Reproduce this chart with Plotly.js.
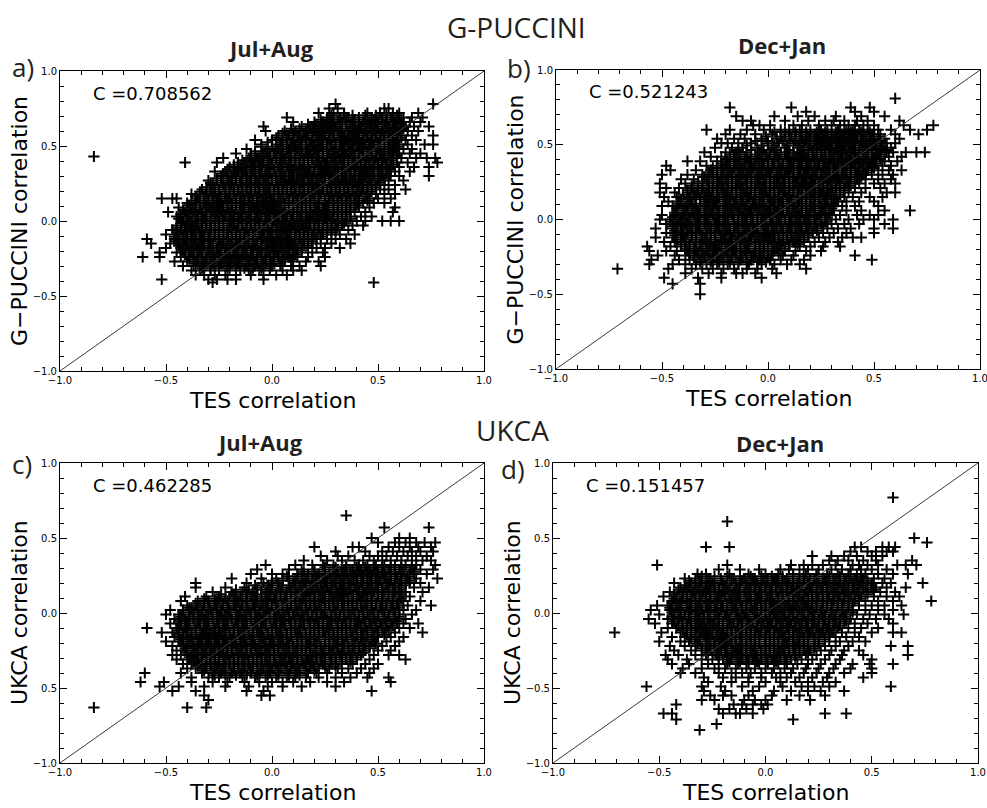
<!DOCTYPE html>
<html>
<head>
<meta charset="utf-8">
<script src="https://cdn.plot.ly/plotly-3.0.1.min.js"></script>
<style>html,body{margin:0;padding:0;background:#fff;}#chart{width:987px;height:808px;}</style>
</head>
<body>
<div id="chart"></div>
<script>
// Each row: [y, x1, x2, ...]  (row by row)
const rowsA = [
[.78,.3,.76],
[.75,.27,.31,.53,.55],
[.72,.22,.29,.34,.45,.51,.57,.6,.69],
[.69,.07,.26,.32,.36,.41,.47,.52,.56,.62,.66,.71],
[.66,.1,.2,.24,.29,.33,.38,.43,.46,.5,.54,.58,.61,.65,.7],
[.63,-.04,.14,.19,.23,.27,.3,.35,.39,.42,.47,.5,.55,.59,.63,.67,.74],
[.6,-.03,.06,.11,.16,.2,.24,.28,.31,.36,.4,.44,.48,.52,.56,.6,.64,.69],
[.57,.03,.08,.13,.17,.22,.25,.29,.34,.38,.41,.45,.49,.53,.57,.61,.66,.76],
[.54,-.08,0,.05,.1,.14,.19,.23,.27,.32,.35,.39,.43,.47,.51,.55,.59,.63,.68],
[.51,-.05,.02,.07,.11,.16,.2,.24,.28,.33,.37,.41,.44,.48,.53,.57,.6,.64,.72,.76],
[.48,-.12,-.02,.03,.08,.12,.17,.21,.26,.3,.34,.38,.42,.46,.5,.55,.58,.62,.66],
[.45,-.17,-.08,-.04,.01,.05,.09,.14,.18,.22,.27,.31,.35,.39,.43,.47,.52,.56,.6,.65,.7],
[.43,-.84],
[.42,-.23,-.11,-.07,-.02,.02,.06,.11,.15,.19,.24,.28,.32,.36,.41,.45,.49,.53,.57,.61,.68,.73,.77],
[.39,-.41,-.26,-.16,-.12,-.08,-.04,0,.04,.08,.13,.17,.21,.25,.3,.34,.38,.42,.46,.5,.54,.59,.64,.78],
[.36,-.2,-.15,-.1,-.06,-.02,.03,.07,.11,.15,.2,.23,.27,.31,.36,.4,.44,.48,.52,.56,.6,.67,.74],
[.33,-.27,-.22,-.17,-.13,-.09,-.05,-.01,.04,.09,.13,.17,.22,.26,.29,.33,.37,.42,.46,.5,.54,.58,.65],
[.3,-.24,-.19,-.14,-.1,-.06,-.02,.02,.06,.1,.15,.19,.23,.27,.31,.35,.39,.44,.48,.52,.56,.6,.74],
[.27,-.3,-.26,-.21,-.17,-.12,-.08,-.04,0,.05,.09,.13,.17,.21,.25,.3,.34,.38,.42,.46,.51,.55,.62],
[.24,-.28,-.23,-.19,-.14,-.1,-.06,-.02,.03,.07,.11,.15,.19,.24,.28,.32,.36,.4,.45,.49,.53,.58],
[.21,-.33,-.29,-.25,-.2,-.16,-.12,-.08,-.04,.01,.05,.09,.13,.17,.21,.26,.3,.34,.38,.43,.47,.51,.55,.63],
[.18,-.38,-.31,-.27,-.22,-.18,-.14,-.1,-.06,-.02,.03,.07,.11,.15,.19,.23,.28,.32,.36,.4,.45,.49,.53,.58],
[.15,-.52,-.47,-.45,-.35,-.3,-.26,-.22,-.17,-.13,-.09,-.05,-.01,.03,.08,.12,.16,.2,.25,.29,.33,.37,.41,.46,.5,.56],
[.12,-.4,-.36,-.32,-.28,-.24,-.19,-.15,-.11,-.07,-.03,.01,.06,.1,.14,.18,.22,.27,.31,.35,.39,.43,.48,.53],
[.09,-.44,-.38,-.34,-.3,-.26,-.21,-.17,-.13,-.09,-.05,-.01,.03,.08,.12,.16,.2,.24,.29,.33,.37,.41,.46,.58],
[.06,-.49,-.41,-.37,-.33,-.28,-.24,-.2,-.15,-.11,-.07,-.03,.01,.05,.1,.14,.18,.22,.26,.31,.35,.39,.44,.57],
[.03,-.45,-.4,-.35,-.31,-.27,-.22,-.18,-.14,-.1,-.05,-.01,.03,.07,.12,.16,.2,.24,.28,.33,.37,.42,.47],
[0,-.42,-.38,-.33,-.29,-.25,-.2,-.16,-.12,-.08,-.03,.01,.05,.09,.14,.18,.22,.26,.31,.35,.4,.44,.52,.56,.6],
[-.03,-.45,-.4,-.36,-.31,-.27,-.23,-.19,-.14,-.1,-.06,-.02,.03,.07,.11,.15,.2,.24,.28,.33,.38,.43],
[-.06,-.47,-.43,-.38,-.34,-.29,-.25,-.21,-.17,-.12,-.08,-.04,0,.05,.09,.13,.17,.22,.26,.3,.36],
[-.09,-.5,-.44,-.4,-.36,-.32,-.27,-.23,-.19,-.15,-.11,-.06,-.02,.02,.06,.11,.15,.19,.24,.28,.32,.39],
[-.12,-.59,-.46,-.42,-.38,-.34,-.3,-.25,-.21,-.17,-.13,-.09,-.04,0,.04,.08,.13,.17,.21,.26,.3,.35],
[-.15,-.57,-.48,-.44,-.4,-.36,-.32,-.28,-.23,-.19,-.15,-.11,-.07,-.02,.02,.06,.1,.15,.19,.23,.28,.37],
[-.18,-.5,-.43,-.39,-.35,-.3,-.26,-.22,-.18,-.13,-.09,-.05,0,.04,.08,.12,.17,.21,.25,.32],
[-.21,-.53,-.45,-.41,-.37,-.33,-.28,-.24,-.2,-.16,-.12,-.07,-.03,.01,.05,.1,.14,.19,.24],
[-.24,-.61,-.53,-.43,-.39,-.35,-.31,-.27,-.22,-.18,-.14,-.1,-.05,-.01,.03,.08,.12,.17,.25],
[-.27,-.46,-.4,-.36,-.32,-.28,-.24,-.2,-.16,-.11,-.07,-.03,.01,.06,.1,.16,.22],
[-.3,-.42,-.37,-.33,-.29,-.25,-.21,-.17,-.12,-.08,-.04,0,.04,.09,.13,.23],
[-.33,-.38,-.34,-.29,-.25,-.2,-.15,-.11,-.06,-.01,.05,.1,.14],
[-.36,-.36,-.32,-.27,-.22,-.17,-.1,-.04,.02,.07],
[-.39,-.52,-.3,-.26,-.21,-.17,-.04],
[-.41,-.28,.48]
];
// in-between rows of the dense core
const fillA = [
[.705,.28,.34,.38,.44,.49,.54,.59],
[.675,.23,.27,.31,.35,.39,.44,.48,.52,.57,.6],
[.645,.17,.21,.25,.28,.32,.37,.41,.45,.49,.53,.57,.61],
[.615,.09,.13,.18,.22,.26,.29,.33,.38,.42,.46,.5,.54,.58,.62],
[.585,.05,.1,.15,.19,.23,.27,.32,.36,.39,.43,.47,.51,.55,.59],
[.555,.02,.07,.12,.16,.21,.24,.29,.33,.37,.4,.45,.49,.53,.57,.61],
[.525,-.02,.04,.09,.13,.18,.22,.26,.3,.34,.38,.42,.46,.5,.55,.58],
[.495,-.05,0,.05,.1,.14,.19,.23,.28,.32,.36,.4,.43,.47,.51,.56,.59],
[.465,-.08,-.03,.02,.07,.11,.16,.2,.24,.29,.33,.37,.41,.45,.49,.53,.57],
[.435,-.1,-.05,-.01,.04,.08,.13,.17,.21,.26,.3,.34,.38,.43,.47,.51,.55,.59],
[.405,-.14,-.1,-.06,-.01,.04,.09,.13,.17,.22,.26,.3,.34,.39,.44,.48,.52,.56],
[.375,-.18,-.13,-.09,-.05,0,.05,.09,.13,.17,.22,.26,.29,.33,.38,.42,.46,.5,.54,.57],
[.345,-.21,-.16,-.12,-.08,-.03,.01,.05,.1,.14,.18,.22,.25,.3,.34,.39,.43,.47,.51,.55],
[.315,-.23,-.18,-.14,-.1,-.05,-.01,.04,.08,.12,.16,.2,.24,.28,.33,.37,.41,.45,.5,.54],
[.285,-.26,-.21,-.17,-.12,-.08,-.04,0,.04,.08,.12,.17,.21,.25,.29,.33,.37,.41,.46,.5,.53],
[.255,-.29,-.24,-.2,-.15,-.11,-.07,-.03,.02,.06,.1,.14,.18,.22,.27,.31,.35,.39,.43,.47,.51],
[.225,-.31,-.27,-.22,-.18,-.14,-.1,-.06,-.01,.03,.07,.11,.15,.2,.24,.28,.32,.36,.41,.45,.49],
[.195,-.34,-.29,-.25,-.2,-.16,-.12,-.08,-.03,.01,.05,.09,.13,.17,.22,.26,.3,.34,.38,.42,.47],
[.165,-.36,-.32,-.28,-.24,-.2,-.15,-.11,-.07,-.03,.01,.05,.1,.14,.18,.22,.27,.31,.35,.39,.44],
[.135,-.38,-.34,-.3,-.25,-.21,-.17,-.13,-.09,-.04,0,.04,.08,.12,.16,.2,.25,.29,.33,.37,.41,.45],
[.105,-.39,-.36,-.31,-.27,-.23,-.19,-.14,-.1,-.06,-.02,.02,.06,.1,.14,.18,.22,.26,.31,.35,.4],
[.075,-.42,-.38,-.34,-.29,-.25,-.21,-.17,-.13,-.08,-.04,0,.04,.08,.12,.16,.21,.25,.29,.33,.37],
[.045,-.43,-.39,-.35,-.31,-.26,-.22,-.18,-.14,-.1,-.06,-.02,.02,.06,.1,.14,.19,.23,.27,.31,.35],
[.015,-.44,-.4,-.36,-.32,-.27,-.23,-.19,-.15,-.11,-.07,-.03,.01,.05,.09,.13,.17,.21,.25,.29,.33,.37],
[-.015,-.43,-.39,-.35,-.31,-.27,-.23,-.18,-.14,-.1,-.06,-.02,.02,.06,.1,.14,.18,.22,.26,.3,.34],
[-.045,-.45,-.41,-.37,-.33,-.29,-.25,-.2,-.16,-.12,-.08,-.04,0,.04,.08,.12,.16,.2,.24,.28,.31],
[-.075,-.45,-.41,-.37,-.33,-.29,-.25,-.21,-.17,-.13,-.09,-.05,-.01,.03,.07,.11,.15,.2,.24,.28],
[-.105,-.46,-.42,-.38,-.34,-.3,-.25,-.21,-.17,-.13,-.09,-.05,-.01,.03,.07,.11,.15,.19,.23],
[-.135,-.45,-.41,-.37,-.33,-.29,-.25,-.21,-.17,-.13,-.09,-.05,-.01,.03,.07,.11,.15,.19],
[-.165,-.44,-.4,-.36,-.32,-.28,-.24,-.2,-.16,-.12,-.08,-.03,.01,.05,.09,.14,.17],
[-.195,-.42,-.38,-.34,-.3,-.26,-.22,-.18,-.14,-.1,-.06,-.02,.02,.06,.1,.14],
[-.225,-.41,-.37,-.33,-.29,-.25,-.21,-.17,-.13,-.09,-.05,-.01,.03,.07,.11],
[-.255,-.39,-.35,-.31,-.27,-.23,-.19,-.15,-.11,-.07,-.03,.01,.05,.09],
[-.285,-.36,-.32,-.28,-.24,-.2,-.16,-.12,-.08,-.04,0,.04],
[-.315,-.33,-.29,-.25,-.21,-.17,-.13,-.09,-.05,-.01]
];

const rowsB = [
[.81,.6],
[.75,-.18,.11,.39,.48],
[.72,.18,.41,.5],
[.69,-.15,.03,.14,.22,.32,.44,.55],
[.66,-.12,-.08,.08,.19,.27,.31,.36,.42,.47,.62],
[.63,-.07,-.04,.01,.12,.16,.24,.3,.34,.38,.41,.45,.5,.64,.78],
[.6,-.29,-.18,-.1,-.02,.06,.1,.15,.2,.25,.28,.33,.37,.4,.43,.47,.52,.58,.67,.75],
[.57,-.2,-.13,-.06,.02,.08,.13,.18,.22,.26,.3,.34,.38,.41,.45,.49,.53,.6,.71],
[.54,-.24,-.16,-.11,-.03,.04,.1,.16,.2,.24,.27,.31,.35,.39,.42,.46,.5,.55,.62],
[.51,-.22,-.19,-.14,-.08,0,.05,.12,.17,.22,.26,.29,.33,.36,.4,.44,.47,.51,.56,.6],
[.48,-.25,-.17,-.12,-.05,.02,.08,.14,.19,.23,.27,.3,.34,.38,.41,.45,.49,.53,.58],
[.45,-.3,-.2,-.15,-.1,-.04,.01,.06,.1,.15,.19,.23,.27,.31,.35,.39,.43,.47,.52,.56,.59,.65,.7,.74],
[.42,-.27,-.22,-.16,-.11,-.06,-.01,.04,.09,.13,.17,.21,.25,.29,.33,.37,.41,.45,.49,.53,.57,.63],
[.39,-.38,-.32,-.24,-.19,-.14,-.09,-.04,0,.05,.1,.15,.19,.23,.27,.31,.35,.39,.43,.47,.51,.55,.61],
[.36,-.48,-.29,-.24,-.2,-.15,-.11,-.06,-.02,.03,.07,.12,.16,.2,.24,.29,.33,.37,.41,.45,.49,.54,.58],
[.33,-.46,-.34,-.27,-.22,-.18,-.13,-.09,-.04,0,.05,.09,.14,.18,.22,.26,.31,.35,.39,.43,.47,.52,.57,.63],
[.3,-.5,-.38,-.31,-.26,-.21,-.17,-.12,-.08,-.03,.01,.06,.1,.15,.19,.23,.28,.32,.36,.41,.45,.49,.54,.59],
[.27,-.41,-.35,-.29,-.24,-.2,-.15,-.11,-.06,-.02,.03,.07,.12,.16,.2,.25,.29,.33,.37,.42,.46,.52,.58],
[.24,-.51,-.39,-.33,-.28,-.23,-.19,-.14,-.1,-.05,-.01,.04,.08,.13,.17,.21,.26,.3,.34,.38,.43,.5,.55,.6],
[.21,-.48,-.42,-.36,-.31,-.26,-.21,-.17,-.12,-.08,-.03,.01,.06,.1,.15,.19,.24,.28,.32,.36,.41,.46,.53],
[.18,-.51,-.44,-.38,-.34,-.29,-.24,-.2,-.15,-.11,-.06,-.02,.03,.07,.12,.16,.21,.25,.29,.34,.38,.44,.56,.6],
[.15,-.49,-.43,-.37,-.32,-.27,-.23,-.18,-.13,-.09,-.04,0,.05,.09,.14,.18,.22,.27,.31,.36,.4,.48,.54],
[.12,-.47,-.42,-.36,-.3,-.26,-.21,-.16,-.12,-.07,-.03,.02,.06,.11,.15,.2,.24,.28,.33,.37,.43,.5],
[.09,-.5,-.45,-.39,-.34,-.29,-.24,-.2,-.15,-.11,-.06,-.02,.03,.07,.12,.16,.21,.25,.3,.35,.41,.52],
[.06,-.43,-.38,-.33,-.28,-.23,-.18,-.14,-.09,-.05,0,.04,.09,.13,.18,.22,.27,.31,.37,.44,.55,.67],
[.03,-.5,-.44,-.4,-.35,-.3,-.26,-.21,-.17,-.12,-.08,-.03,.01,.06,.1,.15,.19,.24,.29,.34,.42,.48,.52],
[0,-.51,-.46,-.41,-.37,-.32,-.28,-.23,-.19,-.14,-.1,-.05,-.01,.04,.08,.13,.17,.22,.27,.32,.38,.45,.5,.59],
[-.03,-.48,-.43,-.39,-.34,-.3,-.25,-.21,-.16,-.12,-.07,-.03,.02,.06,.11,.15,.2,.25,.3,.36,.43,.55],
[-.06,-.53,-.45,-.41,-.36,-.32,-.27,-.23,-.18,-.14,-.09,-.05,0,.04,.09,.13,.18,.23,.28,.33,.39,.5,.59],
[-.09,-.48,-.43,-.38,-.34,-.29,-.25,-.2,-.16,-.11,-.07,-.02,.02,.07,.11,.16,.21,.26,.31,.37,.5],
[-.12,-.53,-.45,-.41,-.36,-.31,-.27,-.22,-.18,-.13,-.09,-.04,0,.05,.09,.14,.19,.24,.29,.35,.4,.44],
[-.15,-.49,-.44,-.39,-.34,-.29,-.25,-.2,-.15,-.11,-.06,-.02,.03,.07,.12,.17,.22,.27,.33],
[-.18,-.57,-.46,-.41,-.37,-.32,-.27,-.23,-.18,-.13,-.09,-.04,0,.05,.1,.15,.2,.26,.34],
[-.21,-.56,-.48,-.43,-.38,-.34,-.29,-.25,-.2,-.16,-.11,-.06,-.02,.03,.08,.13,.18,.25],
[-.24,-.52,-.44,-.39,-.35,-.3,-.26,-.21,-.17,-.12,-.07,-.03,.02,.07,.12,.2,.41],
[-.27,-.55,-.42,-.37,-.32,-.27,-.23,-.18,-.13,-.08,-.04,.01,.06,.11,.17,.49],
[-.3,-.56,-.45,-.39,-.34,-.29,-.24,-.19,-.14,-.09,-.03,.03,.09,.15],
[-.33,-.71,-.47,-.36,-.31,-.26,-.21,-.16,-.1,-.05,.02,.18],
[-.36,-.39,-.28,-.22,-.15,-.12,-.06,.04],
[-.39,-.49,-.33,-.22,-.03],
[-.43,-.45,-.32],
[-.5,-.32]
];
const fillB = [
[.585,.03,.08,.13,.18,.23,.27,.32,.36,.39,.44,.48],
[.555,-.01,.06,.11,.15,.19,.23,.28,.32,.36,.4,.44,.48,.52],
[.525,-.06,0,.07,.13,.18,.22,.25,.29,.33,.37,.41,.44,.48,.53],
[.495,-.1,-.03,.03,.09,.15,.2,.24,.28,.32,.35,.39,.43,.46,.5,.54],
[.465,-.14,-.08,-.02,.04,.1,.16,.21,.25,.29,.32,.36,.4,.43,.47,.51,.55],
[.435,-.18,-.13,-.08,-.03,.03,.08,.12,.16,.21,.25,.29,.33,.37,.41,.45,.49,.53],
[.405,-.2,-.15,-.1,-.05,0,.05,.1,.14,.18,.22,.26,.3,.34,.38,.42,.46,.5,.53],
[.375,-.22,-.18,-.13,-.08,-.03,.02,.07,.11,.16,.2,.24,.28,.32,.36,.4,.44,.48,.51],
[.345,-.26,-.21,-.16,-.12,-.07,-.03,.02,.06,.11,.15,.19,.23,.27,.31,.35,.39,.43,.47,.5],
[.315,-.28,-.24,-.19,-.14,-.1,-.05,-.01,.04,.08,.12,.17,.21,.25,.29,.33,.37,.42,.46],
[.285,-.3,-.26,-.22,-.17,-.13,-.08,-.04,.01,.05,.1,.14,.18,.22,.27,.31,.35,.39,.44],
[.255,-.33,-.28,-.24,-.19,-.15,-.1,-.06,-.02,.03,.07,.12,.16,.2,.24,.28,.32,.37,.41],
[.225,-.36,-.31,-.26,-.22,-.17,-.13,-.08,-.04,.01,.05,.1,.14,.18,.22,.26,.3,.34,.39],
[.195,-.38,-.33,-.28,-.24,-.19,-.15,-.1,-.06,-.01,.03,.08,.12,.16,.2,.24,.28,.32,.36],
[.165,-.4,-.35,-.3,-.26,-.21,-.17,-.12,-.08,-.03,.01,.05,.1,.14,.18,.22,.26,.3,.34],
[.135,-.41,-.37,-.32,-.28,-.24,-.19,-.15,-.1,-.06,-.02,.03,.07,.11,.16,.2,.24,.28,.32],
[.105,-.42,-.38,-.34,-.29,-.25,-.2,-.16,-.12,-.07,-.03,.01,.05,.1,.14,.18,.22,.27,.31],
[.075,-.43,-.39,-.35,-.3,-.26,-.21,-.17,-.13,-.08,-.04,.01,.05,.09,.14,.18,.22,.26,.3],
[.045,-.44,-.4,-.36,-.32,-.27,-.23,-.19,-.14,-.1,-.05,-.01,.03,.07,.12,.16,.2,.25,.29],
[.015,-.45,-.41,-.37,-.33,-.29,-.24,-.2,-.16,-.11,-.07,-.02,.02,.06,.11,.15,.19,.23,.28],
[-.015,-.46,-.42,-.38,-.34,-.29,-.25,-.21,-.16,-.12,-.08,-.03,.01,.05,.1,.14,.18,.22,.27],
[-.045,-.45,-.41,-.37,-.33,-.28,-.24,-.2,-.15,-.11,-.07,-.02,.02,.06,.1,.14,.18,.22,.26],
[-.075,-.44,-.4,-.36,-.32,-.27,-.23,-.19,-.14,-.1,-.06,-.01,.03,.07,.11,.15,.19,.23],
[-.105,-.44,-.4,-.36,-.31,-.27,-.22,-.18,-.14,-.09,-.05,-.01,.03,.07,.11,.15,.19],
[-.135,-.43,-.39,-.34,-.3,-.25,-.21,-.17,-.12,-.08,-.03,.01,.05,.09,.13,.17],
[-.165,-.41,-.37,-.32,-.28,-.24,-.19,-.15,-.1,-.06,-.02,.02,.06,.1,.14],
[-.195,-.39,-.35,-.31,-.26,-.22,-.17,-.13,-.09,-.04,0,.04,.08],
[-.225,-.37,-.33,-.28,-.24,-.19,-.15,-.1,-.06,-.02,.02,.05],
[-.255,-.35,-.31,-.26,-.22,-.17,-.13,-.08,-.04,0],
[-.285,-.32,-.27,-.23,-.18,-.14,-.1,-.05,-.01]
];

const rowsC = [
[.65,.35],
[.57,.53,.74],
[.5,.47,.6,.65],
[.47,.5,.58,.63,.68,.72,.77],
[.44,.2,.38,.41,.55,.6,.65,.69,.75],
[.41,.3,.44,.52,.57,.62,.66,.7,.76],
[.38,.23,.31,.36,.46,.5,.54,.59,.64,.68,.73],
[.35,.15,.26,.33,.39,.43,.48,.52,.56,.61,.66,.71,.75],
[.32,-.03,.11,.19,.24,.29,.35,.41,.45,.49,.53,.58,.63,.68,.77],
[.29,-.07,.08,.14,.2,.25,.3,.34,.38,.42,.46,.5,.55,.6,.65,.7,.76],
[.26,-.1,0,.05,.12,.17,.22,.27,.31,.35,.39,.43,.47,.52,.56,.61,.67,.73],
[.23,-.19,-.05,.02,.08,.14,.19,.24,.28,.32,.36,.4,.45,.49,.53,.58,.63,.68,.78],
[.2,-.36,-.12,-.04,.03,.1,.15,.2,.25,.29,.33,.37,.42,.46,.5,.55,.6,.65,.7],
[.17,-.36,-.22,-.13,-.07,-.01,.05,.11,.16,.21,.26,.3,.34,.39,.43,.47,.52,.57,.61,.67,.74],
[.14,-.28,-.19,-.14,-.09,-.03,.02,.07,.12,.17,.22,.27,.31,.35,.4,.44,.48,.53,.58,.63,.71],
[.11,-.41,-.31,-.25,-.2,-.15,-.1,-.05,-.01,.04,.09,.14,.18,.23,.28,.32,.36,.41,.45,.5,.55,.6,.65],
[.08,-.43,-.35,-.3,-.26,-.21,-.16,-.12,-.07,-.02,.02,.07,.11,.16,.2,.25,.29,.34,.38,.42,.47,.52,.57,.62,.7],
[.05,-.4,-.36,-.32,-.27,-.23,-.18,-.14,-.09,-.05,0,.05,.09,.14,.18,.23,.27,.31,.36,.4,.45,.49,.54,.59,.64,.75],
[.02,-.48,-.42,-.38,-.33,-.29,-.24,-.2,-.15,-.11,-.06,-.02,.03,.07,.12,.16,.21,.25,.3,.34,.38,.43,.47,.52,.57,.62,.68],
[-.01,-.5,-.44,-.39,-.35,-.31,-.26,-.22,-.17,-.13,-.08,-.04,.01,.05,.1,.14,.19,.23,.28,.32,.36,.41,.45,.5,.55,.6,.66],
[-.04,-.46,-.41,-.37,-.32,-.28,-.23,-.19,-.14,-.1,-.05,-.01,.04,.08,.13,.17,.21,.26,.3,.34,.39,.43,.48,.53,.58,.63],
[-.07,-.48,-.43,-.39,-.34,-.3,-.25,-.21,-.16,-.12,-.07,-.03,.02,.06,.11,.15,.2,.24,.28,.33,.37,.41,.46,.51,.56,.62,.69],
[-.1,-.59,-.45,-.41,-.36,-.32,-.27,-.23,-.18,-.14,-.09,-.05,0,.04,.09,.13,.18,.22,.26,.31,.35,.39,.44,.49,.54,.6,.65],
[-.13,-.52,-.47,-.42,-.38,-.33,-.29,-.25,-.2,-.16,-.11,-.07,-.02,.02,.07,.11,.16,.2,.24,.29,.33,.37,.42,.47,.52,.58,.71],
[-.16,-.46,-.42,-.38,-.34,-.3,-.26,-.22,-.18,-.13,-.09,-.04,0,.05,.09,.14,.18,.22,.27,.31,.35,.4,.45,.5,.56,.62],
[-.19,-.5,-.44,-.4,-.35,-.31,-.27,-.23,-.19,-.15,-.1,-.06,-.01,.03,.07,.12,.16,.2,.25,.29,.33,.38,.43,.48,.54,.6],
[-.22,-.47,-.42,-.37,-.33,-.29,-.25,-.21,-.17,-.12,-.08,-.03,.01,.05,.1,.14,.18,.23,.27,.31,.36,.41,.46,.52,.58],
[-.25,-.45,-.4,-.35,-.31,-.27,-.23,-.19,-.14,-.1,-.05,-.01,.03,.08,.12,.16,.21,.25,.29,.34,.39,.44,.5,.56],
[-.28,-.47,-.43,-.38,-.33,-.29,-.25,-.21,-.16,-.12,-.07,-.03,.01,.06,.1,.14,.19,.23,.27,.32,.37,.42,.48,.55,.6],
[-.31,-.45,-.4,-.36,-.31,-.27,-.23,-.18,-.14,-.09,-.05,-.01,.04,.08,.12,.17,.21,.25,.3,.35,.4,.46,.63],
[-.34,-.42,-.38,-.34,-.29,-.25,-.2,-.16,-.11,-.07,-.02,.02,.06,.1,.15,.19,.24,.28,.33,.38,.44,.5],
[-.37,-.4,-.36,-.31,-.27,-.22,-.18,-.13,-.09,-.04,0,.04,.09,.13,.18,.22,.27,.31,.36,.42,.48],
[-.4,-.6,-.43,-.33,-.28,-.24,-.19,-.15,-.1,-.06,-.01,.03,.08,.12,.17,.21,.26,.33,.4,.46],
[-.43,-.38,-.3,-.25,-.2,-.14,-.08,-.03,.02,.07,.11,.16,.22,.3,.37,.45,.55],
[-.46,-.62,-.51,-.38,-.28,-.21,-.13,-.06,0,.05,.1,.18,.26,.34,.56],
[-.49,-.53,-.44,-.32,-.22,-.11,-.02,.05,.14,.3],
[-.52,-.47,-.36,-.12,-.04,.47],
[-.55,-.32,-.05,-.01],
[-.58,-.3],
[-.63,-.84,-.4,-.31]
];
const fillC = [
[.305,.25,.3,.35,.4,.44,.48,.52,.56,.61,.66],
[.275,.15,.2,.25,.29,.33,.37,.41,.45,.49,.53,.58,.62,.67],
[.245,.07,.12,.17,.21,.25,.3,.34,.38,.42,.46,.5,.54,.59,.64],
[.215,0,.05,.11,.16,.21,.26,.3,.34,.38,.43,.47,.51,.56,.61,.65],
[.185,-.08,-.02,.03,.08,.13,.18,.23,.28,.32,.36,.4,.45,.49,.54,.58,.63],
[.155,-.17,-.11,-.05,0,.04,.09,.14,.19,.24,.28,.33,.37,.41,.46,.5,.55,.6],
[.125,-.24,-.18,-.12,-.07,-.02,.02,.07,.11,.16,.2,.25,.3,.34,.38,.43,.47,.52,.57,.61],
[.095,-.32,-.27,-.22,-.17,-.12,-.08,-.03,.01,.06,.11,.15,.2,.24,.29,.33,.38,.42,.47,.52,.57,.61],
[.065,-.36,-.32,-.27,-.23,-.18,-.14,-.09,-.04,0,.05,.09,.13,.18,.22,.27,.31,.36,.4,.44,.49,.54,.59],
[.035,-.39,-.35,-.3,-.26,-.21,-.17,-.12,-.08,-.03,.02,.07,.11,.16,.2,.25,.29,.33,.38,.42,.47,.51,.56,.6],
[.005,-.42,-.37,-.33,-.28,-.24,-.2,-.15,-.1,-.06,-.01,.03,.08,.12,.17,.21,.25,.3,.34,.39,.43,.48,.53,.58],
[-.025,-.43,-.39,-.34,-.3,-.25,-.21,-.16,-.12,-.07,-.03,.02,.06,.11,.15,.19,.24,.28,.32,.37,.41,.46,.5,.55,.6],
[-.055,-.44,-.4,-.35,-.31,-.26,-.22,-.17,-.13,-.08,-.04,.01,.05,.09,.14,.18,.22,.27,.31,.35,.4,.44,.49,.54,.59],
[-.085,-.43,-.39,-.34,-.3,-.25,-.21,-.16,-.12,-.07,-.03,.02,.06,.11,.15,.2,.24,.28,.33,.37,.42,.47,.52,.57],
[-.115,-.44,-.4,-.36,-.31,-.27,-.22,-.18,-.13,-.09,-.05,0,.04,.09,.13,.18,.22,.27,.31,.35,.4,.45,.5,.55],
[-.145,-.44,-.4,-.36,-.32,-.28,-.24,-.2,-.15,-.11,-.06,-.02,.03,.07,.12,.16,.2,.25,.29,.33,.38,.43,.48,.53],
[-.175,-.43,-.39,-.35,-.31,-.27,-.23,-.19,-.14,-.1,-.05,-.01,.03,.07,.12,.16,.2,.25,.29,.33,.38,.42,.47],
[-.205,-.42,-.38,-.34,-.3,-.26,-.22,-.18,-.13,-.09,-.04,0,.04,.08,.12,.17,.21,.25,.3,.34,.39,.44,.49],
[-.235,-.41,-.37,-.33,-.29,-.25,-.21,-.16,-.12,-.07,-.03,.01,.06,.1,.14,.18,.23,.27,.31,.36,.41,.46],
[-.265,-.4,-.36,-.32,-.28,-.24,-.19,-.15,-.1,-.06,-.02,.03,.07,.11,.16,.2,.24,.28,.33,.38,.43],
[-.295,-.39,-.35,-.31,-.27,-.22,-.18,-.13,-.09,-.05,-.01,.04,.08,.12,.16,.21,.25,.3,.35,.4],
[-.325,-.37,-.33,-.29,-.25,-.2,-.16,-.11,-.07,-.03,.01,.05,.09,.14,.18,.23,.28,.33,.37],
[-.355,-.35,-.31,-.26,-.22,-.18,-.13,-.09,-.05,-.01,.03,.07,.12,.16,.2,.25,.3],
[-.385,-.32,-.27,-.23,-.18,-.14,-.1,-.05,-.01,.03,.07,.11,.16,.2],
[-.415,-.27,-.22,-.17,-.12,-.07,-.02,.03,.08,.13]
];

const rowsD = [
[.77,.6],
[.61,-.18],
[.5,.7],
[.47,.76],
[.44,-.28,-.17,.42,.45,.55,.58,.61],
[.41,.4,.48,.52,.57,.6],
[.38,.22,.31,.37,.43,.5,.55],
[.35,.3,.34,.39,.46,.52,.69],
[.32,-.51,-.18,.12,.18,.22,.27,.33,.41,.44,.48,.53,.62,.66,.71],
[.29,-.22,-.12,-.03,.07,.11,.16,.2,.25,.31,.36,.4,.45,.5,.57],
[.26,-.32,-.28,-.17,-.08,0,.06,.13,.19,.24,.29,.34,.39,.43,.47,.53,.6,.67],
[.23,-.38,-.33,-.27,-.21,-.15,-.1,-.05,.01,.05,.1,.16,.21,.27,.32,.37,.42,.46,.51,.56],
[.2,-.43,-.35,-.3,-.25,-.2,-.14,-.09,-.04,.01,.06,.11,.15,.2,.25,.3,.35,.41,.45,.5,.55,.59,.74],
[.17,-.4,-.36,-.31,-.26,-.22,-.17,-.12,-.07,-.02,.03,.08,.13,.17,.22,.27,.32,.37,.42,.47,.52,.57,.66],
[.14,-.45,-.39,-.34,-.29,-.24,-.2,-.15,-.1,-.05,0,.05,.1,.14,.19,.24,.29,.33,.38,.43,.48,.54,.61],
[.11,-.48,-.42,-.37,-.33,-.28,-.23,-.19,-.14,-.09,-.04,.01,.06,.11,.16,.2,.25,.3,.35,.4,.45,.51,.57,.63],
[.08,-.44,-.4,-.35,-.31,-.26,-.21,-.16,-.12,-.07,-.02,.03,.08,.13,.17,.22,.27,.32,.37,.42,.47,.53,.6,.78],
[.05,-.51,-.46,-.42,-.37,-.32,-.28,-.23,-.18,-.14,-.09,-.04,0,.05,.1,.14,.19,.24,.29,.34,.39,.44,.5,.56,.64],
[.02,-.54,-.45,-.4,-.35,-.3,-.26,-.21,-.16,-.11,-.06,-.02,.03,.07,.12,.16,.21,.26,.31,.36,.41,.47,.53,.6],
[-.01,-.5,-.43,-.38,-.33,-.29,-.24,-.19,-.14,-.1,-.05,0,.04,.09,.13,.18,.23,.28,.33,.38,.43,.49,.56,.65],
[-.04,-.55,-.46,-.41,-.36,-.32,-.27,-.22,-.17,-.12,-.08,-.03,.02,.06,.11,.15,.2,.25,.3,.35,.4,.46,.52,.58],
[-.07,-.52,-.44,-.39,-.35,-.3,-.25,-.2,-.15,-.11,-.06,-.01,.03,.08,.12,.17,.22,.27,.32,.37,.42,.48,.6],
[-.1,-.46,-.42,-.37,-.32,-.28,-.23,-.18,-.13,-.09,-.04,.01,.05,.1,.14,.19,.24,.29,.34,.39,.45,.53],
[-.13,-.71,-.49,-.4,-.35,-.3,-.26,-.21,-.16,-.11,-.07,-.02,.02,.07,.11,.16,.21,.26,.31,.36,.42,.5,.6,.64],
[-.16,-.44,-.38,-.33,-.28,-.23,-.19,-.14,-.09,-.05,0,.04,.09,.13,.18,.23,.28,.33,.38,.44],
[-.19,-.5,-.4,-.36,-.31,-.26,-.21,-.17,-.12,-.07,-.03,.02,.06,.11,.16,.2,.25,.3,.35,.41,.47],
[-.22,-.45,-.38,-.33,-.28,-.24,-.19,-.14,-.09,-.05,0,.04,.09,.14,.18,.23,.28,.33,.39,.59,.67],
[-.25,-.43,-.35,-.3,-.26,-.21,-.16,-.12,-.07,-.02,.02,.07,.11,.16,.21,.26,.31,.37,.44],
[-.28,-.47,-.41,-.33,-.28,-.23,-.18,-.14,-.09,-.04,0,.05,.09,.14,.19,.24,.3,.36,.46,.67],
[-.31,-.46,-.37,-.3,-.25,-.2,-.16,-.11,-.06,-.02,.03,.07,.12,.17,.22,.28,.35,.5],
[-.34,-.44,-.36,-.27,-.22,-.18,-.13,-.08,-.03,.01,.06,.1,.15,.2,.26,.33,.41,.49,.6],
[-.37,-.39,-.3,-.24,-.19,-.14,-.09,-.05,0,.04,.09,.13,.19,.25,.32,.4,.5],
[-.4,-.4,-.33,-.22,-.16,-.11,-.07,-.02,.03,.07,.12,.18,.24,.3,.37,.5],
[-.43,-.29,-.2,-.14,-.08,-.02,.05,.1,.16,.22,.29,.46],
[-.46,-.27,-.16,-.08,0,.07,.14,.2,.27,.33],
[-.49,-.56,-.3,-.21,-.11,-.03,.08,.17,.23,.3,.59],
[-.52,-.29,-.19,-.06,.04,.12,.2,.26,.37],
[-.55,-.26,-.2,-.16,-.08,.03,.16,.28],
[-.58,-.3,-.24,-.1,-.05,0,.1,.21],
[-.61,-.42,-.15,-.11,-.06,-.02,.01],
[-.64,-.22,-.17,-.09,-.01],
[-.67,-.48,-.44,-.2,-.14,-.12,-.06,.28,.38],
[-.71,-.42,.13],
[-.74,-.23],
[-.78,-.31]
];
const fillD = [
[.245,-.3,-.24,-.18,-.12,-.07,-.02,.03,.08,.13,.18,.24,.3,.35,.4,.45],
[.215,-.36,-.31,-.26,-.21,-.16,-.11,-.06,-.01,.04,.09,.13,.18,.23,.28,.33,.38,.43,.48],
[.185,-.38,-.33,-.28,-.24,-.19,-.14,-.09,-.05,0,.05,.1,.15,.2,.24,.29,.34,.39,.44,.5],
[.155,-.41,-.37,-.32,-.27,-.22,-.18,-.13,-.08,-.03,.02,.07,.12,.16,.21,.26,.31,.36,.41,.46,.51],
[.125,-.43,-.39,-.35,-.3,-.26,-.21,-.16,-.12,-.07,-.02,.03,.08,.13,.18,.22,.27,.32,.37,.42,.48],
[.095,-.43,-.39,-.35,-.31,-.26,-.22,-.17,-.13,-.08,-.03,.02,.06,.11,.15,.2,.24,.29,.34,.39,.44],
[.065,-.44,-.4,-.36,-.31,-.27,-.23,-.18,-.14,-.09,-.05,0,.04,.09,.13,.18,.22,.27,.31,.36,.41],
[.035,-.45,-.41,-.37,-.33,-.28,-.24,-.2,-.15,-.11,-.07,-.02,.02,.06,.11,.15,.2,.24,.29,.34,.39],
[.005,-.44,-.4,-.36,-.32,-.27,-.23,-.18,-.14,-.09,-.05,0,.04,.08,.13,.17,.22,.26,.31,.36,.41],
[-.025,-.44,-.4,-.36,-.31,-.27,-.22,-.18,-.13,-.09,-.04,0,.05,.09,.13,.18,.22,.27,.32,.37],
[-.055,-.43,-.39,-.35,-.31,-.26,-.22,-.17,-.13,-.08,-.04,.01,.05,.1,.14,.19,.23,.28,.33,.38],
[-.085,-.41,-.37,-.33,-.29,-.24,-.2,-.16,-.11,-.07,-.02,.02,.07,.11,.16,.2,.25,.3,.35],
[-.115,-.39,-.35,-.31,-.27,-.22,-.18,-.14,-.09,-.05,0,.04,.08,.13,.17,.22,.27,.32],
[-.145,-.37,-.33,-.29,-.25,-.2,-.16,-.12,-.07,-.03,.02,.06,.11,.15,.2,.25,.3],
[-.175,-.35,-.31,-.27,-.22,-.18,-.14,-.09,-.05,0,.04,.08,.13,.18,.23,.28],
[-.205,-.32,-.28,-.24,-.2,-.16,-.11,-.07,-.03,.02,.06,.1,.15,.2,.25],
[-.235,-.3,-.26,-.22,-.18,-.13,-.09,-.05,0,.04,.08,.13,.18,.23],
[-.265,-.27,-.23,-.19,-.15,-.11,-.06,-.02,.02,.06,.11,.16,.2],
[-.295,-.22,-.18,-.13,-.09,-.05,0,.04,.09,.14],
[-.325,-.17,-.12,-.08,-.04,.01,.05,.1]
];

const diagX = [-1, 1];
const diagY = [-1, 1];

const panelTitles = ["Jul+Aug", "Dec+Jan", "Jul+Aug", "Dec+Jan"];
const panelLetters = ["a)", "b)", "c)", "d)"];
const corrTexts = ["C =0.708562", "C =0.521243", "C =0.462285", "C =0.151457"];
const yTitles = ["G\u2212PUCCINI correlation", "G\u2212PUCCINI correlation", "UKCA correlation", "UKCA correlation"];
const xTitle = "TES correlation";
const groupTitles = ["G-PUCCINI", "UKCA"];
const tickVals = [-1, -0.5, 0, 0.5, 1];
const tickTextStd = ["\u22121.0", "\u22120.5", "0.0", "0.5", "1.0"];
const tickTextCy = ["\u22121.0", "0.5", "0.0", "0.5", "1.0"];

function flatten(rows) {
  const xs = [], ys = [];
  rows.forEach(r => { for (let i = 1; i < r.length; i++) { xs.push(r[i]); ys.push(r[0]); } });
  return {xs, ys};
}

const W = 987, H = 808;
const px = v => v / W, py = v => 1 - v / H;

// panel boxes in pixels: [left, right, top, bottom]
const boxes = [[60, 484, 71, 371], [556, 980, 70, 369], [60, 484, 463, 763], [553, 978, 463, 763]];

const allRows = [rowsA.concat(fillA), rowsB.concat(fillB), rowsC.concat(fillC), rowsD.concat(fillD)];
const traces = [];
const layout = {
  width: W, height: H, margin: {l: 0, r: 0, t: 0, b: 0},
  paper_bgcolor: "white", plot_bgcolor: "white", showlegend: false,
  annotations: []
};

function axisDef(dom, anchor, ticktext) {
  return {
    domain: dom, range: [-1, 1], anchor: anchor, fixedrange: true,
    showline: true, linecolor: "black", linewidth: 1, mirror: "ticks",
    ticks: "inside", ticklen: 7, tickwidth: 1, tickcolor: "black",
    tickmode: "array", tickvals: tickVals, ticktext: ticktext,
    ticklabeloverflow: "allow",
    showgrid: false, zeroline: false,
    tickfont: {family: "DejaVu Sans", size: 10, color: "black"},
    minor: {ticks: "inside", ticklen: 4, tickwidth: 1, tickcolor: "black", dtick: 0.1, tick0: -1, showgrid: false}
  };
}

allRows.forEach((rows, i) => {
  const n = i + 1;
  const xa = "x" + (n === 1 ? "" : n), ya = "y" + (n === 1 ? "" : n);
  const b = boxes[i];
  const d = flatten(rows);
  traces.push({
    type: "scatter", mode: "markers", x: d.xs, y: d.ys, xaxis: xa, yaxis: ya,
    marker: {symbol: "cross-thin", size: 8, color: "black", line: {color: "black", width: 2}},
    hoverinfo: "skip"
  });
  traces.push({
    type: "scatter", mode: "lines", x: diagX, y: diagY, xaxis: xa, yaxis: ya,
    line: {color: "#3a3a3a", width: 1}, hoverinfo: "skip"
  });
  layout["xaxis" + (n === 1 ? "" : n)] = axisDef([px(b[0]), px(b[1])], ya, tickTextStd);
  layout["yaxis" + (n === 1 ? "" : n)] = axisDef([py(b[3]), py(b[2])], xa, i === 2 ? tickTextCy : tickTextStd);

  const cx = (b[0] + b[1]) / 2, cy = (b[2] + b[3]) / 2;
  const A = layout.annotations;
  A.push({xref: "paper", yref: "paper", x: px(b[0] + 31), y: py(b[2] + 22), xanchor: "left", yanchor: "middle",
    text: corrTexts[i], showarrow: false, font: {family: "DejaVu Sans", size: 18, color: "black"}});
  A.push({xref: "paper", yref: "paper", x: px(cx), y: py(b[3] + 29), xanchor: "center", yanchor: "middle",
    text: xTitle, showarrow: false, font: {family: "DejaVu Sans", size: 22, color: "black"}});
  A.push({xref: "paper", yref: "paper", x: px(b[0] - 41), y: py(cy), xanchor: "center", yanchor: "middle", textangle: -90,
    text: yTitles[i], showarrow: false, font: {family: "DejaVu Sans", size: 22, color: "black"}});
});

const A = layout.annotations;
const titlePos = [[271, 48], [782, 45], [260, 442], [780, 443]];
const letterPos = [[23, 67], [519, 68], [22, 464], [513, 469]];
for (let i = 0; i < 4; i++) {
  A.push({xref: "paper", yref: "paper", x: px(titlePos[i][0]), y: py(titlePos[i][1]), xanchor: "center", yanchor: "middle",
    text: "<b>" + panelTitles[i] + "</b>", showarrow: false, font: {family: "Open Sans", size: 22, color: "#231f20"}});
  A.push({xref: "paper", yref: "paper", x: px(letterPos[i][0]), y: py(letterPos[i][1]), xanchor: "center", yanchor: "middle",
    text: panelLetters[i], showarrow: false, font: {family: "Open Sans", size: 26, color: "#231f20"}});
}
A.push({xref: "paper", yref: "paper", x: px(516), y: py(27), xanchor: "center", yanchor: "middle",
  text: groupTitles[0], showarrow: false, font: {family: "Open Sans", size: 28, color: "#231f20"}});
A.push({xref: "paper", yref: "paper", x: px(512), y: py(430), xanchor: "center", yanchor: "middle",
  text: groupTitles[1], showarrow: false, font: {family: "Open Sans", size: 28, color: "#231f20"}});

Plotly.newPlot("chart", traces, layout, {staticPlot: true, displayModeBar: false});
</script>
</body>
</html>
